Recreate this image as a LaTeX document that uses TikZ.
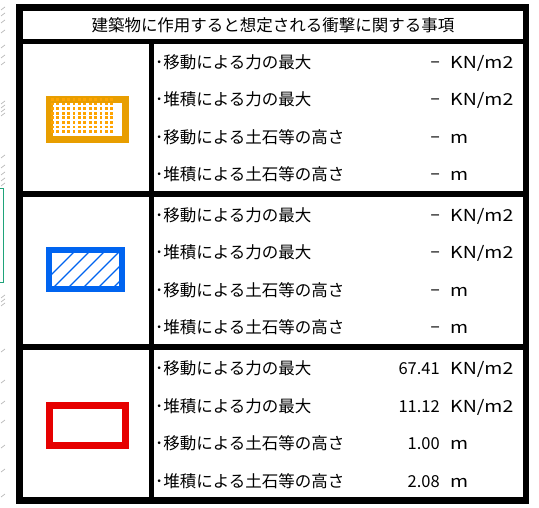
\documentclass[tikz,border=0pt]{standalone}
\usepackage{fontspec}
\setmainfont{Noto Sans CJK JP}
\newfontfamily\unitfont[FakeStretch=1.18]{Noto Sans CJK JP}
\usepackage{xcolor}
\definecolor{MarkOrange}{HTML}{E89E00}
\definecolor{MarkDot}{HTML}{FFA400}
\definecolor{MarkBlue}{HTML}{0064F0}
\definecolor{MarkRed}{HTML}{E60000}
\definecolor{ScrapGreen}{HTML}{1FA37A}

\begin{document}
\begin{tikzpicture}[x=1pt,y=-1pt,
    cell/.style={fill=white},
    txt/.style={inner sep=0pt,font=\fontsize{16.5}{18}\selectfont},
    lbl/.style={txt,anchor=base west},
    val/.style={txt,anchor=base east},
    unitlbl/.style={inner sep=0pt,anchor=base west,font=\fontsize{16.5}{18}\unitfont}]

    \useasboundingbox (0,0) rectangle (539,508);

    % scraps of the sheet behind, at the left edge
    \draw[ScrapGreen,line width=0.8pt] (-1,188) rectangle (3.5,282);
    \foreach \ty in {8,14,21,31,46,56,63,102,106,110,114,156,166,173,179,184,296,300,304,350,381,402,421,446,470,495}{%
        \draw[gray!55,line width=0.7pt] (1,\ty+2) -- (5,\ty-1);
    }

    % frame and cells
    \fill[black] (16,4) rectangle (529,504);
    \fill[cell] (23,11) rectangle (523,39);
    \node[txt] (title) at (273,25) {建築物に作用すると想定される衝撃に関する事項};

    \foreach \s/\top/\va/\vb/\vc/\vd in {1/44/−/−/−/−,2/197/−/−/−/−,3/350/67.41/11.12/1.00/2.08}{%
        \fill[cell] (23,\top) rectangle (149,\top+147);
        \fill[cell] (154,\top) rectangle (523,\top+147);
        \foreach \r/\name/\un/\v in {0/移動による力の最大/{KN/m2}/\va,
                                     1/堆積による力の最大/{KN/m2}/\vb,
                                     2/移動による土石等の高さ/m/\vc,
                                     3/堆積による土石等の高さ/m/\vd}{%
            \node[lbl] (lbl-\s-\r) at (155,\top+24.5+37.5*\r) {･\name};
            \node[val] (val-\s-\r) at (440,\top+24.5+37.5*\r) {\v};
            \node[unitlbl] (unit-\s-\r) at (450,\top+24.5+37.5*\r) {\un};
        }
    }

    % orange mark
    \fill[MarkOrange] (46,96) rectangle (129,143);
    \fill[white] (53,103) rectangle (122,136);
    \foreach \i in {0,...,11}{%
        \foreach \j in {0,...,7}{%
            \fill[MarkDot] (51+5.4*\i,98+4.6*\j) rectangle +(2.8,2.8);
        }
    }

    % blue mark
    \fill[MarkBlue] (46,247) rectangle (125,292);
    \fill[white] (52,253) rectangle (119,286);
    \begin{scope}
        \clip (52,253) rectangle (119,286);
        \foreach \k in {0,...,8}{%
            \draw[MarkBlue,line width=1.1pt] (36+15*\k,290) -- ++(40,-40);
        }
    \end{scope}

    % red mark
    \fill[MarkRed] (46,402) rectangle (129,449);
    \fill[white] (53,409) rectangle (122,442);
\end{tikzpicture}
\end{document}
